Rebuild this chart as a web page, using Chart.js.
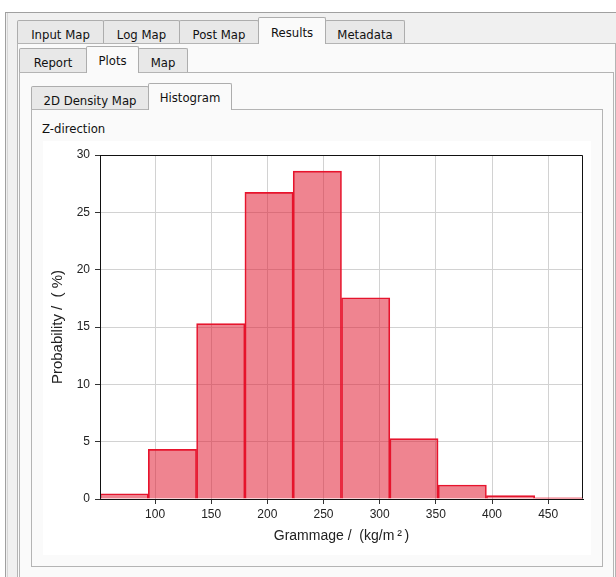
<!DOCTYPE html>
<html><head><meta charset="utf-8">
<script src="https://cdn.jsdelivr.net/npm/chart.js@4"></script>
<style>
html,body{margin:0;padding:0;}
body{width:616px;height:577px;background:#fff;position:relative;overflow:hidden;font-family:"DejaVu Sans",sans-serif;font-size:11.7px;color:#111;}
.a{position:absolute;box-sizing:border-box;}
.win{left:5px;top:12px;width:620px;height:580px;background:#f0f0f0;border-left:1px solid #a0a0a0;border-top:1px solid #a0a0a0;}
.winl{left:7px;top:13px;width:1px;height:580px;background:#d6d6d6;}
.pane{background:#fafafa;border:1px solid #b4b4b4;}
.tab{background:#e8e8e8;border:1px solid #adadad;border-bottom:none;border-radius:2px 2px 0 0;text-align:center;line-height:14px;padding-top:7px;white-space:nowrap;z-index:2;}
.tab.sel{background:#fafafa;z-index:3;}
#lbl{left:42px;top:122px;line-height:14px;font-size:11.7px;}
#plot{left:43px;top:141px;width:548px;height:414px;background:#fff;}
</style>
</head><body>
<div class="a win"></div>
<div class="a winl"></div>

<div class="a pane" style="left:17px;top:43px;width:599px;height:560px;"></div>
<div class="a tab" style="left:17px;top:20px;width:87px;height:23px;">Input Map</div>
<div class="a tab" style="left:103px;top:20px;width:77px;height:23px;">Log Map</div>
<div class="a tab" style="left:179px;top:20px;width:80px;height:23px;">Post Map</div>
<div class="a tab sel" style="left:258px;top:17px;width:68px;height:27px;padding-top:8px;">Results</div>
<div class="a tab" style="left:325px;top:20px;width:80px;height:23px;">Metadata</div>

<div class="a pane" style="left:19px;top:72px;width:595px;height:540px;"></div>
<div class="a tab" style="left:19px;top:48px;width:68px;height:24px;">Report</div>
<div class="a tab sel" style="left:86px;top:46px;width:53px;height:27px;">Plots</div>
<div class="a tab" style="left:138px;top:48px;width:50px;height:24px;">Map</div>

<div class="a pane" style="left:31px;top:109px;width:572px;height:458px;"></div>
<div class="a tab" style="left:31px;top:86px;width:118px;height:23px;">2D Density Map</div>
<div class="a tab sel" style="left:148px;top:83px;width:84px;height:27px;">Histogram</div>

<div class="a" id="lbl">Z-direction</div>
<div class="a" id="plot"><canvas id="c" width="548" height="414"></canvas></div>

<script>
// Data
const binEdges = [51, 94, 137, 180, 223, 266, 309, 352, 395, 438, 481];
const probability = [0.46, 4.33, 15.3, 26.74, 28.6, 17.55, 5.26, 1.22, 0.29, 0.11];
const xTicks = [100, 150, 200, 250, 300, 350, 400, 450];
const yTicks = [0, 5, 10, 15, 20, 25, 30];
const xTitle = 'Grammage /  (kg/m\u2009\u00B2\u2009)';
const yTitle = 'Probability /  ( %)';

const points = probability.map((p, i) => ({ x: (binEdges[i] + binEdges[i + 1]) / 2, y: p }));

const frame = {
  id: 'frame',
  afterDatasetsDraw(chart) {
    const { ctx, chartArea: a } = chart;
    ctx.save();
    ctx.strokeStyle = '#111';
    ctx.lineWidth = 1;
    ctx.beginPath();
    const l = Math.round(a.left) + 0.5, r = Math.round(a.right) - 0.5;
    const t = Math.round(a.top) + 0.5, b = Math.round(a.bottom) - 0.5;
    ctx.moveTo(l, b); ctx.lineTo(l, t); ctx.lineTo(r, t); ctx.lineTo(r, b);
    ctx.stroke();
    ctx.restore();
  }
};

Chart.defaults.font.family = '"Liberation Sans", Arial, sans-serif';
Chart.defaults.color = '#222';

new Chart(document.getElementById('c'), {
  type: 'bar',
  data: {
    datasets: [{
      data: points,
      backgroundColor: 'rgba(225, 22, 45, 0.53)',
      borderColor: 'rgb(232, 20, 45)',
      borderWidth: 1,
      categoryPercentage: 1,
      barPercentage: 1
    }]
  },
  options: {
    responsive: false,
    animation: false,
    layout: { padding: { top: 14, right: 8, left: 0, bottom: 0 } },
    plugins: { legend: { display: false }, tooltip: { enabled: false } },
    scales: {
      x: {
        type: 'linear',
        offset: false,
        min: binEdges[0],
        max: binEdges[binEdges.length - 1],
        afterBuildTicks: s => { s.ticks = xTicks.map(v => ({ value: v })); },
        afterFit: s => { s.height = 56; },
        grid: { offset: false, color: '#d2d2d2', tickColor: '#333', tickLength: 5, lineWidth: 1 },
        border: { color: '#111', width: 1 },
        ticks: { font: { size: 12 }, padding: 3, maxRotation: 0, color: '#222' },
        title: { display: true, text: xTitle, font: { size: 14 }, padding: { top: 0, bottom: 10 }, color: '#222' }
      },
      y: {
        min: 0,
        max: 30,
        afterBuildTicks: s => { s.ticks = yTicks.map(v => ({ value: v })); },
        afterFit: s => { s.width = 57; },
        grid: { color: '#d2d2d2', tickColor: '#333', tickLength: 5, lineWidth: 1 },
        border: { color: '#111', width: 1 },
        ticks: { font: { size: 12 }, padding: 5, color: '#222' },
        title: { display: true, text: yTitle, font: { size: 15 }, padding: { top: 6, bottom: 0 }, color: '#222' }
      }
    }
  },
  plugins: [frame]
});
</script>
</body></html>
